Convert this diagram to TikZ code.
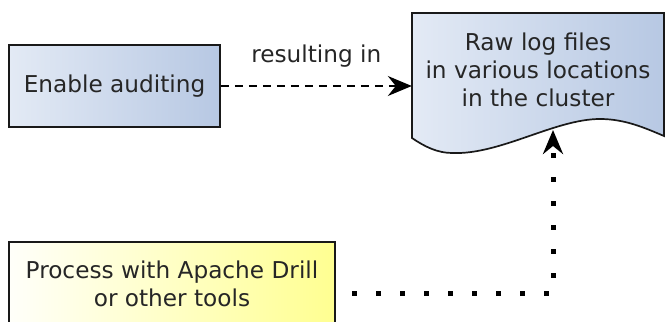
\documentclass[tikz,border=0pt]{standalone}
\usepackage{fontspec}
\setmainfont{DejaVu Sans}
\usetikzlibrary{arrows.meta,calc}
\definecolor{bluelight}{RGB}{227,234,245}
\definecolor{bluedark}{RGB}{183,200,227}
\definecolor{yellowlight}{RGB}{255,255,250}
\definecolor{yellowdark}{RGB}{255,255,145}
\definecolor{edge}{RGB}{25,25,25}
\begin{document}
\begin{tikzpicture}[x=1pt,y=-1pt,
  txt/.style={font=\fontsize{23.2}{28}\selectfont, text=black!85, inner sep=0pt},
  boxline/.style={draw=edge, line width=1.7pt},
  bluefill/.style={left color=bluelight, right color=bluedark},
  yellowfill/.style={left color=yellowlight, right color=yellowdark},
  tipbig/.style={-{Stealth[length=24pt,width=20pt,inset=8pt]}},
  dashline/.style={draw=black, line width=1.5pt, dash pattern=on 8pt off 6pt, tipbig},
  dotline/.style={draw=black, line width=5pt, dash pattern=on 5pt off 19pt, dash phase=7.5pt, tipbig}
]
\useasboundingbox (0,0) rectangle (666,321);

% Enable auditing box
\node[txt, boxline, bluefill, minimum width=211pt, minimum height=82pt] (enable) at (114.5,86) {Enable auditing};

% document shape
\path[boxline, bluefill]
  (412,13) -- (664,13) -- (664,136)
  .. controls (645,128) and (625,119) .. (600,119)
  .. controls (555,119) and (500,155) .. (452,153)
  .. controls (438,153) and (425,147) .. (412,138) -- cycle;
\node[txt, align=center, minimum width=252pt] (raw) at (538,70) {Raw log files\\in various locations\\in the cluster};
\coordinate (docin) at (553,130);

% Process box
\node[txt, boxline, yellowfill, align=center, minimum width=326pt, minimum height=83pt] (proc) at (172,283.5) {Process with Apache Drill\\or other tools};

% connectors
\draw[dashline] (enable.east) -- node[txt, midway, above=18pt] {resulting in} (enable.east -| raw.west);
\draw[dotline] ([yshift=-9.5pt]proc.east) -| (docin);
\end{tikzpicture}
\end{document}
